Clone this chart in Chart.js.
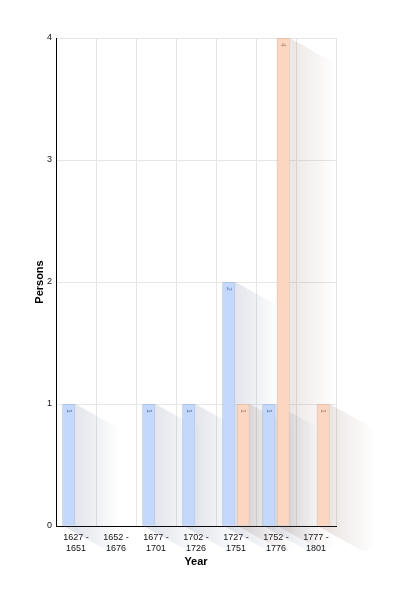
<!DOCTYPE html>
<html>
<head>
<meta charset="utf-8">
<script src="https://cdn.jsdelivr.net/npm/chart.js@4"></script>
<style>
html,body{margin:0;padding:0;background:#fff;}
#wrap{width:405px;height:601px;position:relative;}
</style>
</head>
<body>
<div id="wrap"><canvas id="c" width="405" height="601"></canvas></div>
<script>
const categories = [["1627 -","1651"],["1652 -","1676"],["1677 -","1701"],["1702 -","1726"],["1727 -","1751"],["1752 -","1776"],["1777 -","1801"]];
const seriesBlue = [1, null, 1, 1, 2, 1, null];
const seriesOrange = [null, null, null, null, 1, 4, 1];
const yTicks = [0, 1, 2, 3, 4];

const FONT = "'Liberation Sans', Arial, sans-serif";

const shadowPlugin = {
  id: 'shadow',
  beforeDatasetsDraw(chart) {
    const ctx = chart.ctx;
    const dx = 45, dy = 25;
    chart.data.datasets.forEach((ds, i) => {
      const meta = chart.getDatasetMeta(i);
      meta.data.forEach((el, j) => {
        if (ds.data[j] == null) return;
        const p = el.getProps(['x','y','base','width'], true);
        const l = p.x - p.width/2, r = p.x + p.width/2, t = p.y, b = p.base;
        const g = ctx.createLinearGradient(r, 0, r + dx, 0);
        g.addColorStop(0, ds.shadowColor + '0.16)');
        g.addColorStop(1, ds.shadowColor + '0)');
        ctx.save();
        ctx.beginPath();
        ctx.moveTo(l, t);
        ctx.lineTo(r, t);
        ctx.lineTo(r + dx, t + dy);
        ctx.lineTo(r + dx, b + dy);
        ctx.lineTo(l + dx, b + dy);
        ctx.lineTo(l, b);
        ctx.closePath();
        ctx.fillStyle = g;
        ctx.fill();
        ctx.restore();
      });
    });
  },
  afterDatasetsDraw(chart) {
    const ctx = chart.ctx;
    chart.data.datasets.forEach((ds, i) => {
      const meta = chart.getDatasetMeta(i);
      meta.data.forEach((el, j) => {
        const v = ds.data[j];
        if (v == null) return;
        const p = el.getProps(['x','y'], true);
        ctx.save();
        ctx.translate(p.x, p.y + 7);
        ctx.rotate(Math.PI/2);
        ctx.font = '7px ' + FONT;
        ctx.fillStyle = ds.labelColor;
        ctx.textAlign = 'center';
        ctx.textBaseline = 'middle';
        ctx.fillText(String(v), 0, 0);
        ctx.restore();
      });
    });
  }
};

new Chart(document.getElementById('c'), {
  type: 'bar',
  data: {
    labels: categories,
    datasets: [
      { label: 'Series 1', data: seriesBlue, backgroundColor: '#c3d8fb', borderColor: '#a9c3ee', borderWidth: 1, borderRadius: 2, borderSkipped: 'bottom', shadowColor: 'rgba(70,90,130,', labelColor: '#5f7aa8' },
      { label: 'Series 2', data: seriesOrange, backgroundColor: '#fdd6c1', borderColor: '#e8c0aa', borderWidth: 1, borderRadius: 2, borderSkipped: 'bottom', shadowColor: 'rgba(130,100,85,', labelColor: '#b0826d' }
    ]
  },
  options: {
    responsive: false,
    animation: false,
    devicePixelRatio: 1,
    layout: { padding: { left: 0, top: 38, right: 69, bottom: 0 } },
    datasets: { bar: { categoryPercentage: 0.72, barPercentage: 0.9 } },
    plugins: { legend: { display: false }, tooltip: { enabled: false } },
    scales: {
      x: {
        grid: { color: '#e6e6e6', drawTicks: false, offset: true },
        border: { color: '#000', width: 1 },
        ticks: { color: '#111', font: { family: FONT, size: 9 }, padding: 6, maxRotation: 0 },
        title: { display: true, text: 'Year', color: '#000', font: { family: FONT, size: 11, weight: 'bold' }, padding: { top: 0, bottom: 32 } },
        afterFit(s) { s.height = 75; }
      },
      y: {
        min: 0, max: 4,
        afterBuildTicks(s) { s.ticks = yTicks.map(v => ({ value: v })); },
        grid: { color: '#e6e6e6', drawTicks: false },
        border: { color: '#000', width: 1 },
        ticks: { color: '#111', font: { family: FONT, size: 9 }, padding: 4 },
        title: { display: true, text: 'Persons', color: '#000', font: { family: FONT, size: 11, weight: 'bold' }, padding: { top: 33, bottom: 0 } },
        afterFit(s) { s.width = 56; }
      }
    }
  },
  plugins: [shadowPlugin]
});
</script>
</body>
</html>
